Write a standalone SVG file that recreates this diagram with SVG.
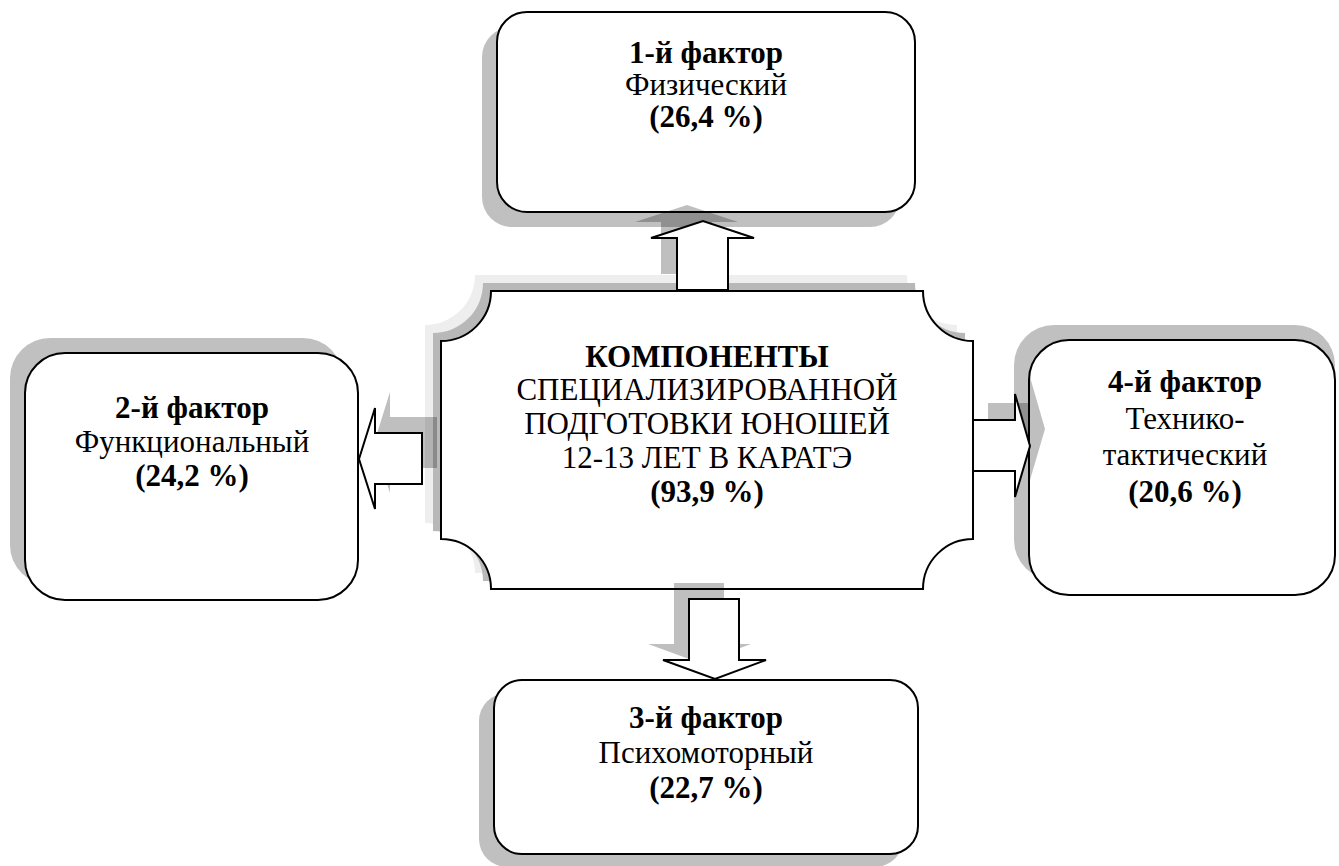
<svg xmlns="http://www.w3.org/2000/svg" width="1339" height="866" viewBox="0 0 1339 866">
<style>
.box{fill:#fff;stroke:#000;stroke-width:2}
.sh{fill:#c0c0c0}
.ash{fill:#000;fill-opacity:0.25}
.arr{fill:#fff;stroke:#000;stroke-width:2;stroke-linejoin:miter}
.t{font-family:'Liberation Serif','DejaVu Serif',serif;font-size:31px;text-anchor:middle;fill:#000}
.b{font-weight:bold}
</style>
<defs>
<path id="plaque" d="M491 291 H923 A50 50 0 0 0 973 341 V539 A50 50 0 0 0 923 589 H491 A50 50 0 0 0 441 539 V341 A50 50 0 0 0 491 291 Z"/>
</defs>
<rect width="1339" height="866" fill="#fff"/>

<g id="center">
<use href="#plaque" transform="translate(-16,-16)" fill="#eeeeee"/>
<use href="#plaque" transform="translate(-8,-8)" fill="#b8b8b8"/>
<use href="#plaque" class="box"/>
<g class="t">
<text x="707" y="367" class="b">КОМПОНЕНТЫ</text>
<text x="707" y="400">СПЕЦИАЛИЗИРОВАННОЙ</text>
<text x="707" y="434">ПОДГОТОВКИ ЮНОШЕЙ</text>
<text x="707" y="468">12-13 ЛЕТ В КАРАТЭ</text>
<text x="707" y="502" class="b">(93,9 %)</text>
</g>
</g>

<g id="factor1">
<rect class="sh" x="482" y="27" width="418" height="200" rx="30"/>
<rect class="box" x="497" y="12" width="418" height="200" rx="30"/>
<g class="t">
<text x="706" y="63" class="b">1-й фактор</text>
<text x="706" y="95">Физический</text>
<text x="706" y="127" class="b">(26,4 %)</text>
</g>
</g>

<g id="factor2">
<rect class="sh" x="10" y="338" width="333" height="247" rx="40"/>
<rect class="box" x="25" y="353" width="333" height="247" rx="40"/>
<g class="t">
<text x="192" y="418" class="b">2-й фактор</text>
<text x="192" y="452">Функциональный</text>
<text x="192" y="486" class="b">(24,2 %)</text>
</g>
</g>

<g id="factor3">
<rect class="sh" x="479" y="693" width="424" height="174" rx="28"/>
<rect class="box" x="494" y="680" width="424" height="174" rx="28"/>
<g class="t">
<text x="706" y="728" class="b">3-й фактор</text>
<text x="706" y="763">Психомоторный</text>
<text x="706" y="798" class="b">(22,7 %)</text>
</g>
</g>

<g id="factor4">
<rect class="sh" x="1014" y="325" width="321" height="255" rx="40"/>
<rect class="box" x="1029" y="340" width="306" height="255" rx="40"/>
<g class="t">
<text x="1185" y="392" class="b">4-й фактор</text>
<text x="1185" y="429">Технико-</text>
<text x="1185" y="465">тактический</text>
<text x="1185" y="502" class="b">(20,6 %)</text>
</g>
</g>

<g id="connectors">
<path class="ash" d="M661 274 V222 H635 L687 205 L738 222 H712 V274 Z"/>
<path class="arr" d="M677 290 V238 H651 L703 221 L754 238 H728 V290 Z"/>
<path class="ash" d="M674 583 V644 H648 L700 663 L751 644 H724 V583 Z"/>
<path class="arr" d="M689 599 V660 H663 L715 679 L766 660 H739 V599 Z"/>
<path class="ash" d="M437 417 H390 V392 L374 443 L390 493 V468 H437 Z"/>
<path class="arr" d="M422 433 H375 V408 L359 459 L375 509 V484 H422 Z"/>
<path class="ash" d="M988 403 H1030 V377 L1045 429 L1030 480 V454 H988 Z"/>
<path class="arr" d="M973 420 H1015 V394 L1030 446 L1015 497 V471 H973 Z"/>
</g>
</svg>
